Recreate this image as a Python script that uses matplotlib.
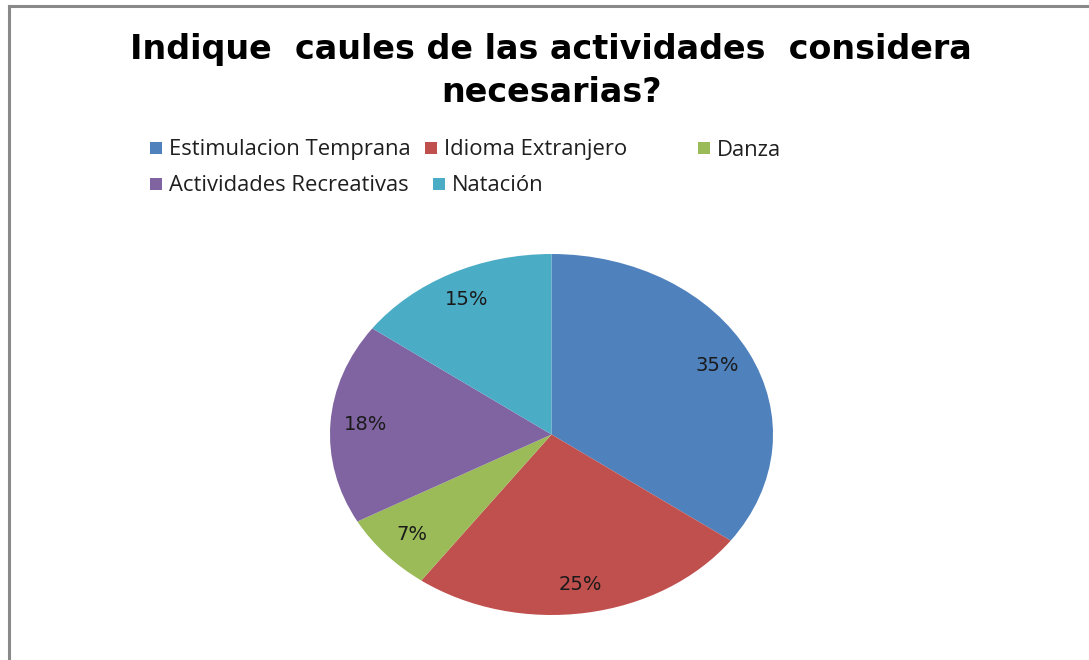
import matplotlib
matplotlib.use("Agg")
import matplotlib.pyplot as plt
from matplotlib.patches import Rectangle
from matplotlib.lines import Line2D

title = "Indique  caules de las actividades  considera\nnecesarias?"
categories = ["Estimulacion Temprana", "Idioma Extranjero", "Danza",
              "Actividades Recreativas", "Natación"]
values = [35, 25, 7, 18, 15]
colors = ["#4F81BD", "#C0504D", "#9BBB59", "#8064A2", "#4BACC6"]

W, H = 1089, 660
fig = plt.figure(figsize=(W / 100, H / 100), dpi=100)
fig.patch.set_facecolor("white")

# chart border (top and left visible, rest cropped)
fig.add_artist(Line2D([9 / W, 9 / W], [0, 1 - 6 / H], transform=fig.transFigure,
                      color="#898989", lw=2.2))
fig.add_artist(Line2D([9 / W, 1], [1 - 6 / H, 1 - 6 / H], transform=fig.transFigure,
                      color="#898989", lw=2.2))

# title
fig.text(551 / W, 1 - 71 / H, title, ha="center", va="center",
         fontsize=24, fontweight="bold", family="DejaVu Sans",
         linespacing=1.4)

# pie (elliptical like the original)
ax = fig.add_axes([330 / W, 1 - 615 / H, 443 / W, 361 / H])
wedges, texts, autotexts = ax.pie(
    values, colors=colors, startangle=90, counterclock=False,
    autopct="%1.0f%%", pctdistance=0.84,
    wedgeprops=dict(linewidth=0),
    textprops=dict(fontsize=14, color="#1a1a1a", family="DejaVu Sans"))
ax.set_aspect("auto")
ax.set_xlim(-1, 1)
ax.set_ylim(-1, 1)
ax.axis("off")

# legend (Excel-style free layout)
sq_x = [150, 425, 698, 150, 433]
row_y = [148, 148, 148, 184, 184]
for cat, col, sx, sy in zip(categories, colors, sq_x, row_y):
    fig.add_artist(Rectangle((sx / W, 1 - (sy + 5.5) / H), 12 / W, 11 / H,
                             transform=fig.transFigure, facecolor=col,
                             edgecolor="none"))
    fig.text((sx + 19) / W, 1 - (sy + 2) / H, cat, ha="left", va="center",
             fontsize=15.8, family="Open Sans", color="#1f1f1f")

fig.savefig("out.png", dpi=100)
